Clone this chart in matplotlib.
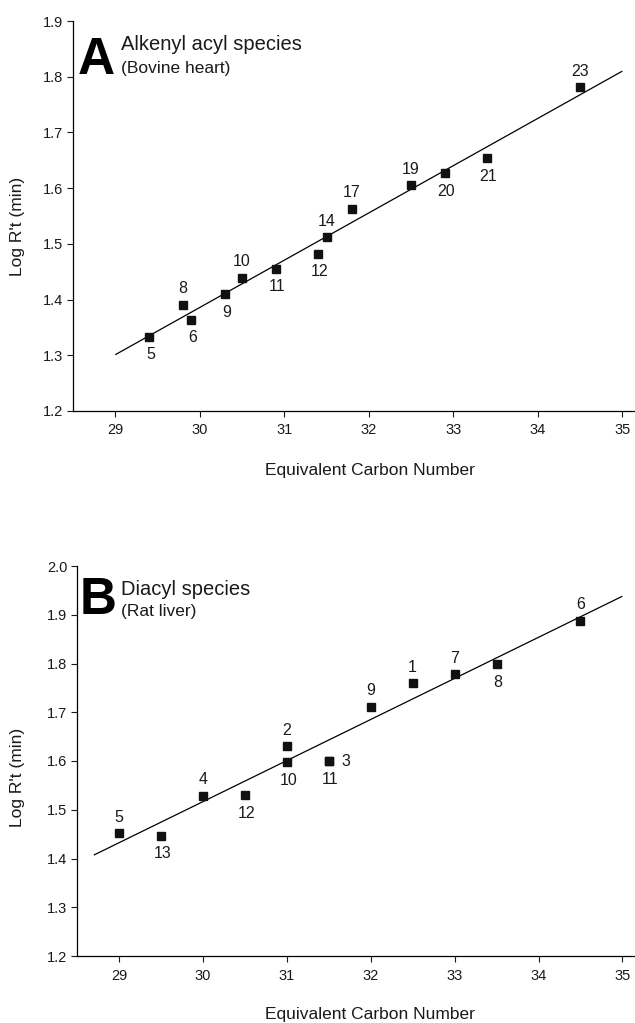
import matplotlib
matplotlib.use('Agg')
import matplotlib.pyplot as plt

plt.rcParams['font.family'] = ['Liberation Sans', 'DejaVu Sans']

# Panel A: alkenyl acyl species (bovine heart)
ecn_a = [29.4, 29.8, 29.9, 30.3, 30.5, 30.9, 31.4, 31.5, 31.8, 32.5, 32.9, 33.4, 34.5]
logrt_a = [1.333, 1.391, 1.364, 1.410, 1.439, 1.455, 1.482, 1.512, 1.563, 1.605, 1.627, 1.654, 1.781]
ids_a = ['5', '8', '6', '9', '10', '11', '12', '14', '17', '19', '20', '21', '23']
fit_a_x = [29.0, 35.0]
fit_a_y = [1.301, 1.810]
yticks_a = [1.2, 1.3, 1.4, 1.5, 1.6, 1.7, 1.8, 1.9]

# Panel B: diacyl species (rat liver)
ecn_b = [29.0, 29.5, 30.0, 30.5, 31.0, 31.0, 31.5, 31.5, 32.0, 32.5, 33.0, 33.5, 34.5]
logrt_b = [1.452, 1.447, 1.529, 1.530, 1.630, 1.597, 1.600, 1.600, 1.711, 1.760, 1.778, 1.799, 1.888]
ids_b = ['5', '13', '4', '12', '2', '10', '3', '11', '9', '1', '7', '8', '6']
fit_b_x = [28.7, 35.0]
fit_b_y = [1.407, 1.938]
yticks_b = [1.2, 1.3, 1.4, 1.5, 1.6, 1.7, 1.8, 1.9, 2.0]

xticks = [29, 30, 31, 32, 33, 34, 35]

# where each number sits relative to its square
place_a = ['b', 'a', 'b', 'b', 'a', 'b', 'b', 'a', 'a', 'a', 'b', 'b', 'a']
place_b = ['a', 'b', 'a', 'b', 'a', 'b', 'r', 'b', 'a', 'a', 'a', 'b', 'a']
OFFSETS = {'a': (0, 11.5), 'b': (1, -13), 'r': (9, 0)}

W, H = 635, 1023
fig = plt.figure(figsize=(W / 100, H / 100), dpi=100)


def px_axes(left, top, bottom):
    return fig.add_axes([left / W, 1 - bottom / H, (W - left) / W, (bottom - top) / H])


def draw_panel(ax, x, y, ids, place, fx, fy, yticks, ylab_pos):
    ax.plot(fx, fy, color='black', lw=0.9, solid_capstyle='butt')
    ax.plot(x, y, 's', color='#111111', ms=6.3, mec='#111111')
    for xi, yi, lab, p in zip(x, y, ids, place):
        dx, dy = OFFSETS[p]
        ax.annotate(lab, (xi, yi), xytext=(dx, dy), textcoords='offset points',
                    ha='left' if p == 'r' else 'center', va='center',
                    fontsize=11.5, color='#1a1a1a')
    ax.set_xlim(28.5, 35.15)
    ax.set_ylim(yticks[0], yticks[-1])
    ax.set_xticks(xticks)
    ax.set_xticklabels([str(t) for t in xticks])
    ax.set_yticks(yticks)
    ax.set_yticklabels([f'{t:.1f}' for t in yticks])
    for s in ['top', 'right']:
        ax.spines[s].set_visible(False)
    for s in ['left', 'bottom']:
        ax.spines[s].set_linewidth(0.9)
    ax.tick_params(direction='out', length=4, width=0.8, labelsize=10.5,
                   colors='#1a1a1a', pad=3)
    ax.tick_params(axis='x', pad=5)
    ax.set_ylabel("Log R't (min)", fontsize=12.5, color='#1a1a1a')
    ax.yaxis.set_label_coords(*ylab_pos)
    ax.patch.set_alpha(0)


ax_a = px_axes(73, 21, 411)
draw_panel(ax_a, ecn_a, logrt_a, ids_a, place_a, fit_a_x, fit_a_y, yticks_a,
           (-0.085, 0.472))
ax_b = px_axes(77, 566, 956)
draw_panel(ax_b, ecn_b, logrt_b, ids_b, place_b, fit_b_x, fit_b_y, yticks_b,
           (-0.093, 0.459))

# panel letters and captions
fig.text(78 / W, 1 - 74 / H, 'A', fontsize=37, fontweight='bold', va='baseline')
fig.text(121 / W, 1 - 50 / H, 'Alkenyl acyl species', fontsize=14.5, va='baseline', color='#1a1a1a')
fig.text(121 / W, 1 - 73 / H, '(Bovine heart)', fontsize=12.5, va='baseline', color='#1a1a1a')

fig.text(80 / W, 1 - 614 / H, 'B', fontsize=37, fontweight='bold', va='baseline')
fig.text(121 / W, 1 - 595 / H, 'Diacyl species', fontsize=14.5, va='baseline', color='#1a1a1a')
fig.text(121 / W, 1 - 616 / H, '(Rat liver)', fontsize=12.5, va='baseline', color='#1a1a1a')

fig.text(370 / W, 1 - 475 / H, 'Equivalent Carbon Number', fontsize=12.5,
         ha='center', va='baseline', color='#1a1a1a')
fig.text(370 / W, 1 - 1019 / H, 'Equivalent Carbon Number', fontsize=12.5,
         ha='center', va='baseline', color='#1a1a1a')

fig.savefig('out.png', dpi=100)
